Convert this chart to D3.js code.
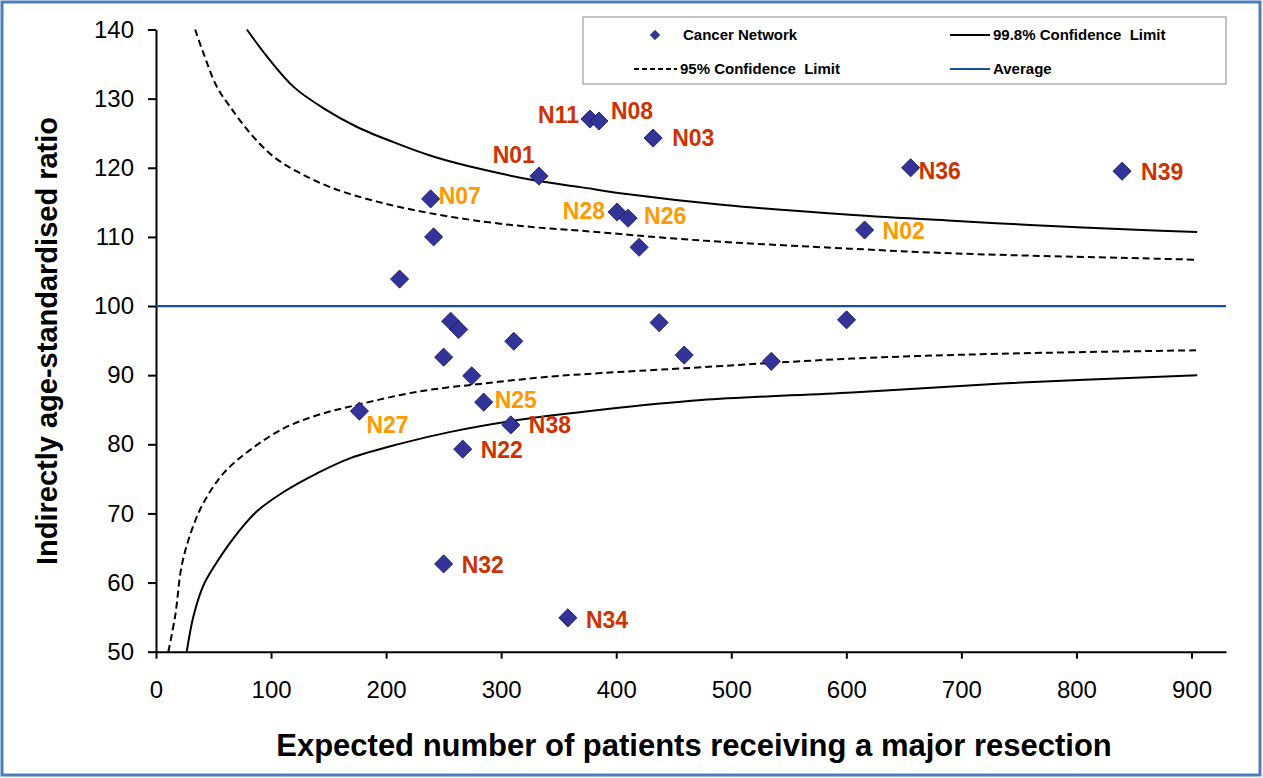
<!DOCTYPE html>
<html><head><meta charset="utf-8">
<script src="https://cdn.jsdelivr.net/npm/d3@7"></script>
<style>
body{margin:0;background:#fff}
text{font-family:"Liberation Sans",Arial,sans-serif}
</style>
</head><body>
<svg id="chart" width="1263" height="778"></svg>
<script>
// ---------------- data ----------------
const pointLabel = ["N11","N08","N03","N01","N07","","N28","N26","","N36","N39","N02","","","","","","","","","","","N25","N27","N38","N22","N32","N34"];
const pointX = [377.2,385.0,432.1,332.8,238.7,241.3,400.7,410.3,419.9,655.9,839.7,615.9,211.7,256.1,263.1,250.0,311.0,274.4,437.3,459.1,534.8,600.2,284.8,176.8,308.4,266.6,250.0,358.0];
const pointY = [127.05,126.76,124.3,118.8,115.5,110.0,113.6,112.7,108.5,120.0,119.5,111.0,103.9,97.8,96.6,92.6,94.9,89.9,97.6,92.9,92.0,98.0,86.1,84.8,82.8,79.3,62.7,54.9];
// outside 99.8% limit = "alarm", between 95% and 99.8% = "alert"
const labelGroup = ["alarm","alarm","alarm","alarm","alert","","alert","alert","","alarm","alarm","alert","","","","","","","","","","","alert","alert","alarm","alarm","alarm","alarm"];

const xTicks = [0,100,200,300,400,500,600,700,800,900];
const yTicks = [50,60,70,80,90,100,110,120,130,140];
const averageRatio = 100;

// control limits: [expected, ratio]
const upper998 = [[79,140],[96.4,136.1],[119.6,131.7],[145.7,128.6],[174.8,125.9],[209.7,123.5],[241.6,121.6],[285.1,119.7],[328.7,118.2],[369,117.2],[409,116.2],[494,114.6],[603,113.2],[696,112.3],[764,111.7],[857,111.0],[905,110.7]];
const upper95 = [[34,140],[41.2,136.6],[52.9,131.7],[64.5,128.8],[81.9,125.0],[102.2,121.6],[125.4,119.2],[154.4,117.0],[192.2,115.1],[235.8,113.5],[285.1,112.2],[328.7,111.4],[369,110.9],[472,109.5],[603,108.3],[696,107.6],[857,106.9],[905,106.7]];
const lower95 = [[10.7,50],[16.6,55.1],[22.4,62.5],[31.1,67.6],[41.2,71.5],[58.6,75.8],[81.9,79.2],[110.9,82.3],[140,84.2],[174.8,85.7],[227.1,87.6],[285.1,88.8],[343.2,89.8],[386.8,90.3],[459,91.0],[605,92.4],[735,93.1],[905,93.6]];
const lower998 = [[26.7,50],[32.5,55.1],[41.2,59.6],[50,62.2],[67.3,66.4],[87.7,70.3],[110.9,73.1],[140,75.8],[169,78.0],[212.5,80.1],[256,81.8],[314.2,83.5],[386.8,85.0],[474,86.4],[605,87.5],[735,88.8],[905,90.0]];

const xTitle = "Expected number of patients receiving a major resection";
const yTitle = "Indirectly age-standardised ratio";
const legendItems = ["Cancer Network","99.8% Confidence  Limit","95% Confidence  Limit","Average"];

// ---------------- styles / placement ----------------
const labelPlace = {
  N11:{dx:-11,dy:4,anchor:"end"}, N08:{dx:12,dy:-2,anchor:"start"}, N03:{dx:19,dy:8,anchor:"start"},
  N01:{dx:-4,dy:-13,anchor:"end"}, N07:{dx:8,dy:5,anchor:"start"}, N28:{dx:-12,dy:7,anchor:"end"},
  N26:{dx:16,dy:6,anchor:"start"}, N36:{dx:8,dy:11,anchor:"start"}, N39:{dx:19,dy:9,anchor:"start"},
  N02:{dx:18,dy:9,anchor:"start"}, N25:{dx:11,dy:6,anchor:"start"}, N27:{dx:7,dy:22,anchor:"start"},
  N38:{dx:18,dy:8,anchor:"start"}, N22:{dx:18,dy:9,anchor:"start"}, N32:{dx:18,dy:9,anchor:"start"},
  N34:{dx:18,dy:10,anchor:"start"}
};
const groupColor = {alarm:"#cc3300", alert:"#ff9900"};
const markerFill = "#333399", markerStroke = "#1a1a55";
const avgColor = "#13529e";

const svg = d3.select("#chart");
const W = 1263, H = 778;

// outer frame
svg.append("rect").attr("x",2).attr("y",2).attr("width",W-5).attr("height",H-5)
  .attr("fill","#fff").attr("stroke","#4a7ebb").attr("stroke-width",3);

const x = d3.scaleLinear().domain([0,930]).range([156,1226]);
const y = d3.scaleLinear().domain([50,140]).range([651.7,29.5]);

// axes
const xAxis = svg.append("g").attr("transform",`translate(0,${y(50)})`)
  .call(d3.axisBottom(x).tickValues(xTicks).tickSize(7).tickSizeOuter(0).tickPadding(22));
const yAxis = svg.append("g").attr("transform",`translate(${x(0)},0)`)
  .call(d3.axisLeft(y).tickValues(yTicks).tickSize(8).tickSizeOuter(0).tickPadding(14));
[xAxis,yAxis].forEach(g=>{
  g.select(".domain").attr("stroke","#000").attr("stroke-width",2);
  g.selectAll(".tick line").attr("stroke","#000").attr("stroke-width",2);
  g.selectAll(".tick text").attr("fill","#000").style("font-size","24px")
   .style("font-family","'Liberation Sans',Arial,sans-serif");
});

// average line
svg.append("line").attr("x1",x(0)).attr("x2",x(930)).attr("y1",y(averageRatio)).attr("y2",y(averageRatio))
  .attr("stroke",avgColor).attr("stroke-width",2.2);

// control limits
const line = d3.line().x(d=>x(d[0])).y(d=>y(d[1])).curve(d3.curveCatmullRom.alpha(0.5));
[[upper998,null],[lower998,null],[upper95,"7,4"],[lower95,"7,4"]].forEach(([data,dash])=>{
  const p = svg.append("path").attr("d",line(data)).attr("fill","none")
    .attr("stroke","#000").attr("stroke-width",2);
  if (dash) p.attr("stroke-dasharray",dash);
});

// points
const diamond = d3.symbol().type(d3.symbolSquare).size(165);
const idx = d3.range(pointX.length);
svg.append("g").selectAll("path").data(idx).join("path")
  .attr("d",diamond)
  .attr("transform",i=>`translate(${x(pointX[i])},${y(pointY[i])}) rotate(45)`)
  .attr("fill",markerFill).attr("stroke",markerStroke).attr("stroke-width",0.8);

// labels
svg.append("g").selectAll("text").data(idx.filter(i=>pointLabel[i])).join("text")
  .attr("x",i=>x(pointX[i])+labelPlace[pointLabel[i]].dx)
  .attr("y",i=>y(pointY[i])+labelPlace[pointLabel[i]].dy)
  .attr("text-anchor",i=>labelPlace[pointLabel[i]].anchor)
  .attr("fill",i=>groupColor[labelGroup[i]])
  .style("font-size","23px").style("font-weight","bold")
  .text(i=>pointLabel[i]);

// axis titles
svg.append("text").attr("x",694).attr("y",756).attr("text-anchor","middle")
  .style("font-size","31px").style("font-weight","bold").text(xTitle);
svg.append("text").attr("transform","translate(57,341) rotate(-90)").attr("text-anchor","middle")
  .style("font-size","29px").style("font-weight","bold").text(yTitle);

// legend
const lg = svg.append("g");
lg.append("rect").attr("x",583).attr("y",17).attr("width",643).attr("height",67)
  .attr("fill","#fff").attr("stroke","#8c8c8c").attr("stroke-width",1);
const r1 = 35, r2 = 69;
lg.append("path").attr("d",d3.symbol().type(d3.symbolSquare).size(45))
  .attr("transform",`translate(655,${r1}) rotate(45)`).attr("fill",markerFill).attr("stroke",markerStroke).attr("stroke-width",0.6);
lg.append("line").attr("x1",950).attr("x2",990).attr("y1",r1).attr("y2",r1).attr("stroke","#000").attr("stroke-width",2);
lg.append("line").attr("x1",634).attr("x2",677).attr("y1",r2).attr("y2",r2).attr("stroke","#000").attr("stroke-width",2).attr("stroke-dasharray","5,3");
lg.append("line").attr("x1",950).attr("x2",990).attr("y1",r2).attr("y2",r2).attr("stroke",avgColor).attr("stroke-width",2);
const lpos = [[683,r1],[993,r1],[680,r2],[993,r2]];
legendItems.forEach((t,i)=>{
  lg.append("text").attr("x",lpos[i][0]).attr("y",lpos[i][1]).attr("dy","0.36em")
    .style("font-size","15px").style("font-weight","bold").style("white-space","pre").text(t);
});
</script>
</body></html>
